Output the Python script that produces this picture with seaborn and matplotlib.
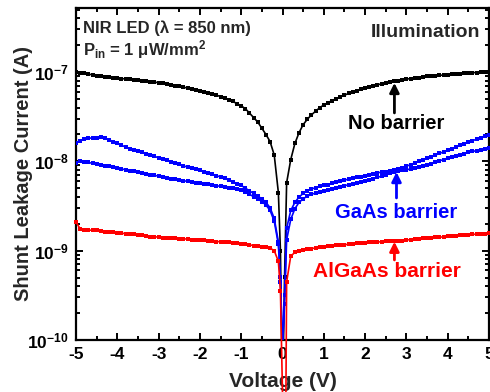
import numpy as np
import pandas as pd
import matplotlib
matplotlib.use("Agg")
import matplotlib.pyplot as plt
from matplotlib.ticker import FixedLocator, LogLocator, NullFormatter, FuncFormatter, MultipleLocator
import seaborn as sns

# Voltage sweep (V)
voltage = [
    -5.0, -4.9, -4.8, -4.7, -4.6, -4.5, -4.4, -4.3, -4.2, -4.1,
    -4.0, -3.9, -3.8, -3.7, -3.6, -3.5, -3.4, -3.3, -3.2, -3.1,
    -3.0, -2.9, -2.8, -2.7, -2.6, -2.5, -2.4, -2.3, -2.2, -2.1,
    -2.0, -1.9, -1.8, -1.7, -1.6, -1.5, -1.4, -1.3, -1.2, -1.1,
    -1.0, -0.9, -0.8, -0.7, -0.6, -0.5, -0.4, -0.3, -0.2, -0.1,
    -0.05, 0.0, 0.05,
    0.1, 0.2, 0.3, 0.4, 0.5, 0.6, 0.7, 0.8, 0.9, 1.0,
    1.1, 1.2, 1.3, 1.4, 1.5, 1.6, 1.7, 1.8, 1.9, 2.0,
    2.1, 2.2, 2.3, 2.4, 2.5, 2.6, 2.7, 2.8, 2.9, 3.0,
    3.1, 3.2, 3.3, 3.4, 3.5, 3.6, 3.7, 3.8, 3.9, 4.0,
    4.1, 4.2, 4.3, 4.4, 4.5, 4.6, 4.7, 4.8, 4.9, 5.0,
]

# Shunt leakage current, stored as log10(I / A)
log_i_no_barrier = [
    -7.000, -7.008, -7.016, -7.024, -7.032, -7.040, -7.046, -7.052, -7.058, -7.064,
    -7.070, -7.074, -7.078, -7.082, -7.086, -7.090, -7.096, -7.102, -7.108, -7.114,
    -7.120, -7.128, -7.136, -7.144, -7.152, -7.160, -7.170, -7.180, -7.190, -7.200,
    -7.210, -7.220, -7.230, -7.245, -7.260, -7.275, -7.290, -7.310, -7.330, -7.355,
    -7.380, -7.410, -7.460, -7.510, -7.560, -7.630, -7.700, -7.780, -7.930, -8.350,
    -9.000, -10.700, -9.300,
    -8.240, -7.980, -7.800, -7.680, -7.590, -7.530, -7.480, -7.440, -7.400, -7.370,
    -7.345, -7.320, -7.300, -7.280, -7.260, -7.240, -7.225, -7.210, -7.195, -7.180,
    -7.168, -7.156, -7.144, -7.132, -7.120, -7.112, -7.104, -7.096, -7.088, -7.080,
    -7.074, -7.068, -7.062, -7.056, -7.050, -7.046, -7.042, -7.038, -7.034, -7.030,
    -7.026, -7.022, -7.018, -7.014, -7.010, -7.008, -7.006, -7.004, -7.002, -7.000,
]

log_i_gaas_1 = [
    -7.790, -7.770, -7.750, -7.740, -7.740, -7.738, -7.730, -7.740, -7.760, -7.780,
    -7.800, -7.820, -7.840, -7.860, -7.870, -7.890, -7.900, -7.920, -7.930, -7.945,
    -7.960, -7.975, -7.990, -8.005, -8.020, -8.035, -8.050, -8.065, -8.080, -8.090,
    -8.100, -8.115, -8.130, -8.145, -8.160, -8.175, -8.190, -8.210, -8.230, -8.250,
    -8.270, -8.300, -8.330, -8.360, -8.390, -8.420, -8.460, -8.520, -8.640, -8.900,
    -9.300, -10.100, -9.500,
    -8.750, -8.550, -8.460, -8.400, -8.360, -8.330, -8.310, -8.295, -8.280, -8.270,
    -8.260, -8.245, -8.235, -8.225, -8.210, -8.200, -8.190, -8.180, -8.170, -8.160,
    -8.150, -8.140, -8.130, -8.120, -8.115, -8.110, -8.100, -8.090, -8.072, -8.055,
    -8.037, -8.020, -8.002, -7.984, -7.966, -7.948, -7.930, -7.912, -7.894, -7.876,
    -7.858, -7.840, -7.822, -7.805, -7.787, -7.770, -7.752, -7.735, -7.717, -7.700,
]

log_i_gaas_2 = [
    -8.020, -7.995, -8.004, -8.013, -8.022, -8.031, -8.040, -8.049, -8.058, -8.067,
    -8.076, -8.085, -8.094, -8.103, -8.112, -8.121, -8.130, -8.139, -8.148, -8.157,
    -8.166, -8.175, -8.184, -8.193, -8.202, -8.210, -8.217, -8.224, -8.231, -8.238,
    -8.245, -8.252, -8.259, -8.266, -8.273, -8.280, -8.288, -8.296, -8.304, -8.312,
    -8.320, -8.345, -8.370, -8.395, -8.420, -8.450, -8.490, -8.550, -8.670, -8.930,
    -9.350, -10.100, -9.600,
    -8.880, -8.650, -8.530, -8.460, -8.420, -8.390, -8.370, -8.355, -8.340, -8.330,
    -8.320, -8.310, -8.298, -8.286, -8.274, -8.262, -8.250, -8.240, -8.230, -8.220,
    -8.210, -8.195, -8.180, -8.165, -8.150, -8.135, -8.120, -8.110, -8.100, -8.095,
    -8.085, -8.075, -8.065, -8.055, -8.040, -8.025, -8.010, -7.995, -7.980, -7.965,
    -7.950, -7.940, -7.930, -7.915, -7.900, -7.890, -7.880, -7.870, -7.860, -7.850,
]

log_i_algaas = [
    -8.680, -8.755, -8.765, -8.772, -8.770, -8.772, -8.784, -8.786, -8.794, -8.796,
    -8.800, -8.802, -8.812, -8.815, -8.818, -8.826, -8.822, -8.835, -8.842, -8.845,
    -8.848, -8.855, -8.856, -8.862, -8.860, -8.865, -8.870, -8.868, -8.876, -8.877,
    -8.878, -8.886, -8.888, -8.890, -8.898, -8.900, -8.902, -8.908, -8.914, -8.916,
    -8.926, -8.930, -8.934, -8.944, -8.950, -8.954, -8.962, -8.972, -9.000, -9.120,
    -9.450, -10.600, -13.000,
    -9.350, -9.060, -9.020, -9.000, -8.990, -8.983, -8.976, -8.970, -8.964, -8.958,
    -8.952, -8.949, -8.940, -8.937, -8.935, -8.927, -8.925, -8.919, -8.917, -8.913,
    -8.908, -8.907, -8.903, -8.901, -8.896, -8.895, -8.890, -8.889, -8.887, -8.881,
    -8.876, -8.873, -8.870, -8.863, -8.861, -8.858, -8.851, -8.849, -8.846, -8.841,
    -8.835, -8.833, -8.830, -8.824, -8.821, -8.819, -8.814, -8.812, -8.810, -8.806,
]

y_tick_values = [1e-10, 1e-9, 1e-8, 1e-7]
x_tick_values = [-5, -4, -3, -2, -1, 0, 1, 2, 3, 4, 5]

sns.set_style("ticks")
plt.rcParams["font.family"] = ["Liberation Sans", "DejaVu Sans"]
plt.rcParams["font.weight"] = "bold"
plt.rcParams["axes.labelweight"] = "bold"
plt.rcParams["mathtext.fontset"] = "custom"
plt.rcParams["mathtext.rm"] = "Liberation Sans:bold"
plt.rcParams["mathtext.it"] = "Liberation Sans:bold"
plt.rcParams["mathtext.bf"] = "Liberation Sans:bold"
plt.rcParams["mathtext.sf"] = "Liberation Sans:bold"

fig = plt.figure(figsize=(4.9, 3.92), dpi=100)
ax = fig.add_axes([76 / 490, 1 - 340 / 392, 413 / 490, 332 / 392])

v = np.array(voltage)
series = [
    (log_i_no_barrier, "#000000", True, 2),
    (log_i_gaas_1, "#0000FF", True, 3),
    (log_i_gaas_2, "#0000FF", True, 3),
    (log_i_algaas, "#FF0000", False, 5),
]
for logs, color, clip, z in series:
    current = 10.0 ** np.array(logs)
    sns.lineplot(x=v, y=current, ax=ax, color=color, linewidth=1.2,
                 marker="s", markersize=3.3, markeredgewidth=0,
                 estimator=None, sort=False, clip_on=clip, zorder=z)

ax.set_yscale("log")
ax.set_xlim(-5, 5)
ax.set_ylim(1e-10, 5.2e-7)

ax.xaxis.set_major_locator(FixedLocator(x_tick_values))
ax.xaxis.set_minor_locator(MultipleLocator(0.5))
ax.yaxis.set_major_locator(FixedLocator(y_tick_values))
ax.yaxis.set_minor_locator(LogLocator(base=10, subs=np.arange(2, 10)))
ax.yaxis.set_minor_formatter(NullFormatter())
ax.yaxis.set_major_formatter(FuncFormatter(
    lambda val, pos: r"$10^{%d}$" % int(round(np.log10(val)))))
ax.xaxis.set_major_formatter(FuncFormatter(lambda val, pos: "%d" % val))

ax.tick_params(which="both", direction="in", top=True, right=True,
               width=1.4, colors="black")
ax.tick_params(which="major", length=5, labelsize=12.5, pad=5)
ax.tick_params(which="minor", length=2.8)
for lbl in ax.get_xticklabels() + ax.get_yticklabels():
    lbl.set_fontweight("bold")
for sp in ax.spines.values():
    sp.set_linewidth(1.6)
    sp.set_color("black")

ax.set_xlabel("Voltage (V)", fontsize=15, fontweight="bold", labelpad=7)
ax.set_ylabel("Shunt Leakage Current (A)", fontsize=14.5, fontweight="bold")
ax.yaxis.set_label_coords(-0.104, 0.5)

ax.text(0.017, 0.925, "NIR LED (λ = 850 nm)", transform=ax.transAxes,
        fontsize=12, fontweight="bold", ha="left", va="baseline")
ax.text(0.017, 0.858, r"P$_{\mathregular{in}}$ = 1 μW/mm$^{\mathregular{2}}$",
        transform=ax.transAxes, fontsize=12, fontweight="bold", ha="left", va="baseline")
ax.text(0.978, 0.9127, "Illumination", transform=ax.transAxes,
        fontsize=14, fontweight="bold", ha="right", va="baseline")

ax.text(0.775, 0.6355, "No barrier", transform=ax.transAxes, color="black",
        fontsize=14.5, fontweight="bold", ha="center", va="baseline")
ax.text(0.775, 0.3675, "GaAs barrier", transform=ax.transAxes, color="#0000FF",
        fontsize=14.5, fontweight="bold", ha="center", va="baseline")
ax.text(0.753, 0.19, "AlGaAs barrier", transform=ax.transAxes, color="#FF0000",
        fontsize=15, fontweight="bold", ha="center", va="baseline")

arrow_style = dict(arrowstyle="-|>", lw=2.0, mutation_scale=14, shrinkA=0, shrinkB=0)
ax.annotate("", xy=(2.71, 7.55e-8), xytext=(2.71, 3.48e-8),
            arrowprops=dict(color="black", **arrow_style))
ax.annotate("", xy=(2.76, 7.6e-9), xytext=(2.76, 3.89e-9),
            arrowprops=dict(color="#0000FF", **arrow_style))
ax.annotate("", xy=(2.71, 1.26e-9), xytext=(2.71, 7.87e-10),
            arrowprops=dict(color="#FF0000", **arrow_style))

fig.savefig("out.png", dpi=100)
